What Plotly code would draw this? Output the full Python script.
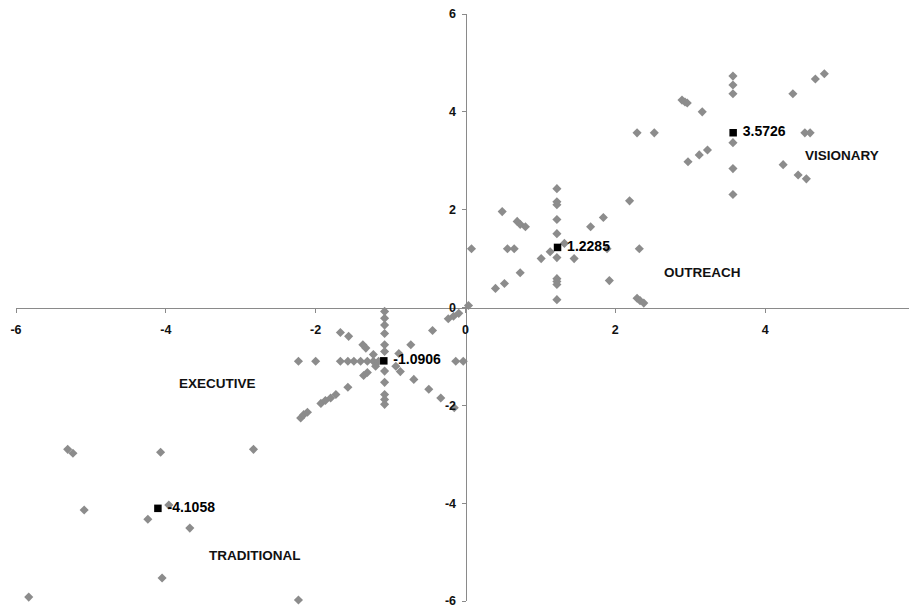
import plotly.graph_objects as go

# ---- data ----
trad_x = [-5.31, -5.24, -4.07, -2.83, -5.09, -4.24, -3.96, -3.68, -4.05, -5.83, -2.23]
trad_y = [-2.90, -2.98, -2.96, -2.90, -4.14, -4.33, -4.04, -4.51, -5.53, -5.92, -5.98]

exec_x = ([-1.08] * 11
          + [-2.23, -2.00, -1.67, -1.57, -1.49, -1.40, -1.31, -1.23, -1.16, -0.13, -0.03]
          + [-1.67, -1.56, -1.37, -1.33, -1.23, -0.93, -0.87, -0.69, -0.49, -0.33, -0.15]
          + [-2.20, -2.16, -2.11, -1.93, -1.87, -1.80, -1.73, -1.57, -1.36, -1.31, -1.20,
             -0.89, -0.73, -0.44, -0.23, -0.16, -0.09, 0.04])
exec_y = ([-0.08, -0.22, -0.36, -0.53, -0.76, -0.90, -1.30, -1.53, -1.78, -1.88, -1.98]
          + [-1.10] * 11
          + [-0.51, -0.59, -0.76, -0.83, -0.96, -1.20, -1.31, -1.47, -1.67, -1.85, -2.05]
          + [-2.26, -2.19, -2.14, -1.96, -1.90, -1.85, -1.78, -1.63, -1.39, -1.33, -1.20,
             -0.94, -0.76, -0.47, -0.23, -0.18, -0.12, 0.04])

outr_x = ([1.22] * 10
          + [0.08, 0.56, 0.65, 1.89, 2.32]
          + [0.40, 0.52, 0.73, 1.01, 1.13, 1.32, 1.67, 1.84, 2.19]
          + [0.49, 0.69, 0.73, 0.80, 1.45, 1.92, 2.29, 2.33, 2.38])
outr_y = ([2.43, 2.16, 2.10, 1.80, 1.51, 1.02, 0.59, 0.53, 0.47, 0.16]
          + [1.20] * 5
          + [0.39, 0.49, 0.71, 1.00, 1.14, 1.31, 1.65, 1.84, 2.18]
          + [1.96, 1.76, 1.70, 1.65, 1.00, 0.55, 0.19, 0.14, 0.09])

vis_x = ([3.57] * 6
         + [2.29, 2.52, 4.53, 4.60]
         + [2.89, 2.93, 2.96, 3.16, 4.24, 4.44, 4.55]
         + [2.97, 3.12, 3.23, 4.37, 4.67, 4.79])
vis_y = ([4.73, 4.55, 4.37, 3.37, 2.84, 2.31]
         + [3.57] * 4
         + [4.24, 4.20, 4.18, 4.00, 2.92, 2.71, 2.63]
         + [2.98, 3.12, 3.22, 4.37, 4.67, 4.78])

centroids = [-4.1058, -1.0906, 1.2285, 3.5726]
centroid_labels = ["-4.1058", "-1.0906", "1.2285", "3.5726"]

quad_labels = ["VISIONARY", "OUTREACH", "EXECUTIVE", "TRADITIONAL"]
quad_x = [5.03, 3.16, -3.31, -2.81]
quad_y = [3.10, 0.71, -1.55, -5.06]

ticks = [-6, -4, -2, 0, 2, 4, 6]

FONT = "Liberation Sans, Arial, sans-serif"

# ---- figure ----
fig = go.Figure()
diamond = dict(symbol="diamond", size=7, color="#8c8c8c", line=dict(width=0))
for xs, ys in [(trad_x, trad_y), (exec_x, exec_y), (outr_x, outr_y), (vis_x, vis_y)]:
    fig.add_trace(go.Scatter(x=xs, y=ys, mode="markers", marker=diamond,
                             showlegend=False, hoverinfo="x+y", cliponaxis=False))

fig.add_trace(go.Scatter(
    x=centroids, y=centroids, mode="markers+text",
    marker=dict(symbol="square", size=7.5, color="#000000"),
    text=[" " + s for s in centroid_labels], textposition="middle right",
    textfont=dict(family=FONT, size=14, color="#000000", weight="bold"),
    showlegend=False, cliponaxis=False))

for t, x, y in zip(quad_labels, quad_x, quad_y):
    fig.add_annotation(x=x, y=y, text=t, showarrow=False,
                       font=dict(family=FONT, size=13.5, color="#111111", weight="bold"))

axis_common = dict(
    range=[-6, 6], tickvals=ticks, ticktext=[str(t) for t in ticks],
    showgrid=False, zeroline=False, showline=True, linecolor="#8a8a8a",
    linewidth=1, ticks="outside", ticklen=4, tickcolor="#8a8a8a",
    tickfont=dict(family=FONT, size=12.5, color="#111111", weight="bold"),
    anchor="free", position=0.5, fixedrange=True, automargin=False,
    ticklabeloverflow="allow",
)
fig.update_layout(
    width=917, height=613,
    margin=dict(l=8, r=10, t=6, b=20),
    paper_bgcolor="white", plot_bgcolor="white",
    xaxis=dict(**axis_common, ticklabelstandoff=6),
    yaxis=dict(**axis_common, ticklabelstandoff=3),
)

fig.write_html("out.html")
